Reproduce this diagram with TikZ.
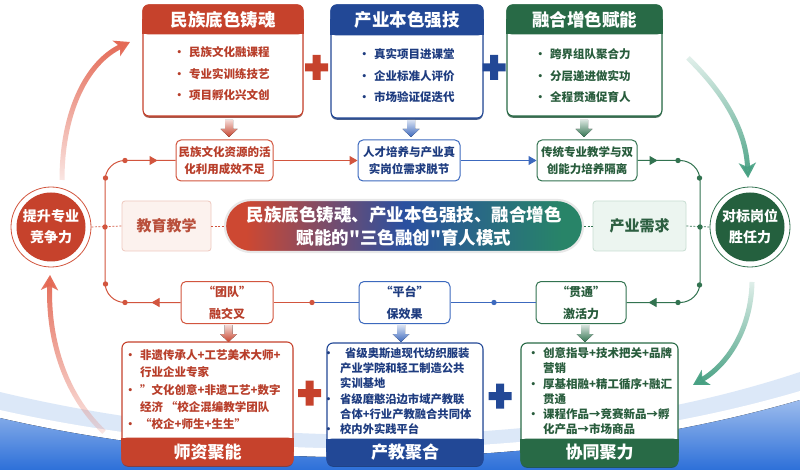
\documentclass[tikz,border=0pt]{standalone}
\usepackage{fontspec}
\newfontfamily\cjk{Noto Sans CJK SC}
\usetikzlibrary{arrows.meta,fadings,shapes.geometric,calc,decorations.markings,shadows}
\definecolor{cred}{RGB}{198,66,44}
\definecolor{credl}{RGB}{210,85,62}
\definecolor{credt}{RGB}{184,62,42}
\definecolor{cblue}{RGB}{34,72,150}
\definecolor{cbluel}{RGB}{60,105,190}
\definecolor{cbluet}{RGB}{30,60,128}
\definecolor{cgreen}{RGB}{40,106,70}
\definecolor{cgreenl}{RGB}{50,115,80}
\definecolor{cgreent}{RGB}{40,92,60}
\definecolor{ccircg}{RGB}{36,96,62}
\definecolor{bigred}{RGB}{228,105,85}
\definecolor{bigteal}{RGB}{70,160,130}
\definecolor{pinkfill}{RGB}{252,242,238}
\definecolor{pinkline}{RGB}{238,200,190}
\definecolor{pinktxt}{RGB}{185,80,60}
\definecolor{mintfill}{RGB}{236,245,240}
\definecolor{mintline}{RGB}{200,222,210}
\definecolor{minttxt}{RGB}{45,95,65}
\definecolor{bgblue}{RGB}{35,105,215}
\definecolor{bgbluel}{RGB}{205,222,245}
\definecolor{pillred}{RGB}{205,72,50}
\definecolor{pillblue}{RGB}{42,80,160}
\definecolor{pillgreen}{RGB}{40,132,104}
\pgfdeclarehorizontalshading{pillshade}{100bp}{color(0bp)=(pillred); color(28bp)=(pillred); color(50bp)=(pillblue); color(72bp)=(pillgreen); color(100bp)=(pillgreen)}
\tikzfading[name=fadedown, top color=transparent!0, bottom color=transparent!85]
\tikzfading[name=fadeup, top color=transparent!85, bottom color=transparent!0]
\newcommand\blockarr[3]{\fill[shift={(#1,#2)}, top color=#3!20, bottom color=#3] (-4,0) -- (4,0) -- (4,-9) -- (8.5,-9) -- (0,-17) -- (-8.5,-9) -- (-4,-9) -- cycle;}
\newcommand\plussign[3]{\fill[shift={(#1,#2)}, #3] (-11.5,-4) rectangle (11.5,4) (-4,-12.5) rectangle (4,12.5);}
\tikzset{
  boxframe/.style={draw=#1, line width=1.1pt, fill=white, rounded corners=6pt, inner sep=0pt,
    drop shadow={shadow xshift=0pt, shadow yshift=-1.8pt, fill=#1!75!black, opacity=0.8}},
  headtxt/.style={text=white, font=\cjk\bfseries\fontsize{17.5}{20}\selectfont, inner sep=0pt},
  bodytxt/.style={font=\cjk\bfseries\fontsize{11.5}{21.5}\selectfont, align=left, inner sep=0pt, anchor=north west},
  lowtxt/.style={font=\cjk\bfseries\fontsize{11.5}{17.3}\selectfont, align=left, inner sep=0pt, anchor=north west},
  midbox/.style={draw=#1, line width=1pt, fill=white, rounded corners=5pt, minimum height=41pt, inner sep=1pt, align=center, font=\cjk\bfseries\fontsize{11.5}{17}\selectfont},
  quotebox/.style={draw=#1, line width=1pt, fill=white, rounded corners=5pt, minimum height=42pt, inner sep=1pt, align=center, font=\cjk\bfseries\fontsize{12}{22}\selectfont},
  dashline/.style={line width=0.7pt, dash pattern=on 2pt off 1.5pt},
  conn/.style={line width=1pt},
  tip/.style={-{Triangle[length=8pt,width=9pt]}},
  bigarrow/.style={line width=5pt, -{Stealth[length=15pt,width=17pt,inset=4pt]}},
}
\begin{document}
\begin{tikzpicture}[x=1pt,y=1pt]
\useasboundingbox (0,0) rectangle (800,-470);
\fill[white] (0,0) rectangle (800,-470);
% background wave
\fill[bgbluel!70] (0,-392) .. controls (250,-452) and (560,-452) .. (800,-372) -- (800,-470) -- (0,-470) -- cycle;
\fill[white] (0,-410) .. controls (250,-466) and (560,-462) .. (800,-391) -- (800,-470) -- (0,-470) -- cycle;
\fill[top color=bgblue!45, bottom color=bgblue] (0,-418) .. controls (250,-476) and (560,-470) .. (800,-400) -- (800,-470) -- (0,-470) -- cycle;

% big curved arrows
\draw[bigarrow, bigred, path fading=fadedown] (62,-180) .. controls (62,-110) and (88,-62) .. (130,-42);
\draw[bigarrow, bigred, path fading=fadedown] (104,-432) .. controls (62,-392) and (48,-335) .. (50,-275);
\draw[bigarrow, bigteal, path fading=fadeup] (688,-58) .. controls (726,-95) and (746,-132) .. (748,-178);
\draw[bigarrow, bigteal, path fading=fadeup] (752,-282) .. controls (751,-330) and (727,-365) .. (693,-385);

% ---------- top boxes ----------
\node[boxframe=cred, minimum width=160pt, minimum height=111pt] (R) at (223,-60.5) {};
\fill[cred, rounded corners=6pt] (R.north west) rectangle ($(R.north east)+(0,-30)$);
\fill[cred] ($(R.north west)+(0,-15)$) rectangle ($(R.north east)+(0,-30)$);
\node[headtxt] (Rh) at ($(R.north)+(0,-15)$) {民族底色铸魂};
\node[bodytxt, text=credt] (Rt) at (189,-46.5) {\llap{•\hspace{4pt}}民族文化融课程\\\llap{•\hspace{4pt}}专业实训练技艺\\\llap{•\hspace{4pt}}项目孵化兴文创};

\node[boxframe=cblue, minimum width=152pt, minimum height=113pt] (B) at (407,-61.5) {};
\fill[cblue, rounded corners=6pt] (B.north west) rectangle ($(B.north east)+(0,-31)$);
\fill[cblue] ($(B.north west)+(0,-15)$) rectangle ($(B.north east)+(0,-31)$);
\node[headtxt] (Bh) at ($(B.north)+(0,-15.5)$) {产业本色强技};
\node[bodytxt, text=cbluet] (Bt) at (374,-48.5) {\llap{•\hspace{4pt}}真实项目进课堂\\\llap{•\hspace{4pt}}企业标准人评价\\\llap{•\hspace{4pt}}市场验证促迭代};

\node[boxframe=cgreen, minimum width=155pt, minimum height=111pt] (G) at (584.5,-60.5) {};
\fill[cgreen, rounded corners=6pt] (G.north west) rectangle ($(G.north east)+(0,-30)$);
\fill[cgreen] ($(G.north west)+(0,-15)$) rectangle ($(G.north east)+(0,-30)$);
\node[headtxt] (Gh) at ($(G.north)+(0,-15)$) {融合增色赋能};
\node[bodytxt, text=cgreent] (Gt) at (550,-48.5) {\llap{•\hspace{4pt}}跨界组队聚合力\\\llap{•\hspace{4pt}}分层递进做实功\\\llap{•\hspace{4pt}}全程贯通促育人};

\plussign{316.5}{-67.5}{cred}
\plussign{494}{-67.5}{cblue}

\blockarr{229}{-120}{cred}
\blockarr{411}{-120}{cbluel}
\blockarr{584}{-120}{cgreenl}

% ---------- middle rows ----------
\node[midbox=credl, text=credt, minimum width=97pt] (m1) at (224.5,-160.5) {民族文化资源的活\\化利用成效不足};
\node[midbox=cbluel, text=cbluet, minimum width=102pt] (m2) at (409,-160.5) {人才培养与产业真\\实岗位需求脱节};
\node[midbox=cgreenl, text=cgreent, minimum width=100pt] (m3) at (587,-160.5) {传统专业教学与双\\创能力培养隔离};

\node[quotebox=credl, text=credt, minimum width=92pt] (b1) at (227,-302.5) {“团队”\\融交叉};
\node[quotebox=cbluel, text=cbluet, minimum width=91pt] (b2) at (404.5,-302.5) {“平台”\\保效果};
\node[quotebox=cgreenl, text=cgreent, minimum width=90pt] (b3) at (581,-302.5) {“贯通”\\激活力};

\node[circle, draw=credl, line width=0.8pt, fill=white, minimum size=80pt, inner sep=0pt] (Lo) at (51,-227) {};
\node[circle, fill=cred, minimum size=69pt, inner sep=0pt, text=white, align=center, font=\cjk\bfseries\fontsize{14}{21}\selectfont] (L) at (Lo.center) {提升专业\\竞争力};
\node[circle, draw=cgreenl, line width=0.8pt, fill=white, minimum size=80pt, inner sep=0pt] (Ro) at (750,-227) {};
\node[circle, fill=ccircg, minimum size=69pt, inner sep=0pt, text=white, align=center, font=\cjk\bfseries\fontsize{14}{21}\selectfont] (Rc) at (Ro.center) {对标岗位\\胜任力};

\node[draw=pinkline, fill=pinkfill, line width=0.8pt, rounded corners=3pt, minimum width=89pt, minimum height=50pt, text=pinktxt, font=\cjk\bfseries\fontsize{15}{18}\selectfont] (E) at (166.5,-226) {教育教学};
\node[draw=mintline, fill=mintfill, line width=0.8pt, rounded corners=3pt, minimum width=93pt, minimum height=50pt, text=minttxt, font=\cjk\bfseries\fontsize{15}{18}\selectfont] (N) at (639.5,-226) {产业需求};

\node[shading=pillshade, draw=white!82!gray, line width=2.2pt, rounded corners=26pt, minimum width=358pt, minimum height=52pt, inner sep=0pt, text=white, align=center, font=\cjk\bfseries\fontsize{17.5}{23}\selectfont] (P) at (404,-226) {民族底色铸魂、产业本色强技、融合增色\\赋能的"三色融创"育人模式};

% coordinates for loop corners
\coordinate (lt) at (105,-160.5);
\coordinate (lb) at (105,-302.5);
\coordinate (rt) at (700,-160.5);
\coordinate (rb) at (700,-302.5);
\coordinate (ld) at (105,-227);
\coordinate (rd) at (700,-227);
\coordinate (d1) at (494,-302.5);
\coordinate (d2) at (312,-302.5);

% loop connectors
\draw[conn, credl, rounded corners=20pt, postaction={decorate}, decoration={markings,
  mark=at position 29pt with {\arrow{Triangle[length=8pt,width=9pt]}},
  mark=at position -18pt with {\arrow{Triangle[length=8pt,width=9pt]}}}]
  (b1.west) -- (lb) -- (lt) -- (m1.west);
\draw[conn, cgreenl, rounded corners=20pt, postaction={decorate}, decoration={markings,
  mark=at position 20pt with {\arrow{Triangle[length=8pt,width=9pt]}},
  mark=at position -22pt with {\arrow{Triangle[length=8pt,width=9pt]}}}]
  (m3.east) -- (rt) -- (rb) -- (b3.east);
\draw[conn, credl, tip] (m1.east) -- (m2.west);
\draw[conn, cbluel, tip] (m2.east) -- (m3.west);
\draw[conn, cbluel] (b3.west) -- (b2.east);
\draw[conn, cbluel] (b2.west) -- (d2);
\draw[conn, credl] (d2) -- (b1.east);

% dashed links
\draw[dashline, credl] (Lo.east) -- (E.west);
\draw[dashline, credl] (E.east) -- (P.west);
\draw[dashline, cgreenl] (P.east) -- (N.west);
\draw[dashline, cgreenl] (N.east) -- (Ro.west);

% dots
\foreach \p in {(125,-160.5),(105.5,-178),(105,-227),(105.5,-284),(125,-302.5),(312,-302.5)}
  \fill[credl] \p circle (2.7);
\foreach \p in {(678,-160.5),(699.5,-178),(700,-227),(699.5,-285),(678,-302.5)}
  \fill[cgreenl] \p circle (2.7);
\fill[cbluel] (d1) circle (2.7);

% ---------- bottom ----------
\blockarr{228.5}{-325}{cred}
\blockarr{401}{-325}{cbluel}
\blockarr{585}{-325}{cgreenl}

\node[boxframe=cred, minimum width=171pt, minimum height=123pt] (RB) at (207.5,-403.5) {};
\fill[cred, rounded corners=6pt] (RB.south west) rectangle ($(RB.south east)+(0,28)$);
\fill[cred] ($(RB.south west)+(0,14)$) rectangle ($(RB.south east)+(0,28)$);
\node[headtxt, font=\cjk\bfseries\fontsize{17}{20}\selectfont] (RBh) at ($(RB.south)+(0,14)$) {师资聚能};
\node[lowtxt, text=credt] (RBt) at (140,-349.4) {\llap{•\hspace{4pt}}非遗传承人+工艺美术大师+\\行业企业专家\\\llap{•\hspace{4pt}}”文化创意+非遗工艺+数字\\经济 “校企混编教学团队\\\llap{•\hspace{4pt}}“校企+师生+生生”};

\node[boxframe=cblue, minimum width=156pt, minimum height=122pt] (BB) at (405,-404) {};
\fill[cblue, rounded corners=6pt] (BB.south west) rectangle ($(BB.south east)+(0,27)$);
\fill[cblue] ($(BB.south west)+(0,14)$) rectangle ($(BB.south east)+(0,27)$);
\node[headtxt, font=\cjk\bfseries\fontsize{17}{20}\selectfont] (BBh) at ($(BB.south)+(0,13.5)$) {产教聚合};
\node[lowtxt, text=cbluet, font=\cjk\bfseries\fontsize{11.3}{15.2}\selectfont] (BBt) at (340,-347.6) {\llap{•\hspace{6pt}}\hspace{5pt}省级奥斯迪现代纺织服装\\产业学院和轻工制造公共\\实训基地\\\llap{•\hspace{6pt}}省级磨憨沿边市域产教联\\合体+行业产教融合共同体\\\llap{•\hspace{6pt}}校内外实践平台};

\node[boxframe=cgreen, minimum width=157pt, minimum height=123pt] (GB) at (599.5,-404.5) {};
\fill[cgreen, rounded corners=6pt] (GB.south west) rectangle ($(GB.south east)+(0,28)$);
\fill[cgreen] ($(GB.south west)+(0,14)$) rectangle ($(GB.south east)+(0,28)$);
\node[headtxt, font=\cjk\bfseries\fontsize{17}{20}\selectfont] (GBh) at ($(GB.south)+(0,14)$) {协同聚力};
\node[lowtxt, text=cgreent, font=\cjk\bfseries\fontsize{11.5}{15.2}\selectfont] (GBt) at (543,-347.6) {\llap{•\hspace{4pt}}创意指导+技术把关+品牌\\营销\\\llap{•\hspace{4pt}}厚基相融+精工循序+融汇\\贯通\\\llap{•\hspace{4pt}}课程作品→竞赛新品→孵\\化产品→市场商品};

\plussign{309.5}{-393}{cred}
\plussign{500}{-396}{cblue}
\end{tikzpicture}
\end{document}
